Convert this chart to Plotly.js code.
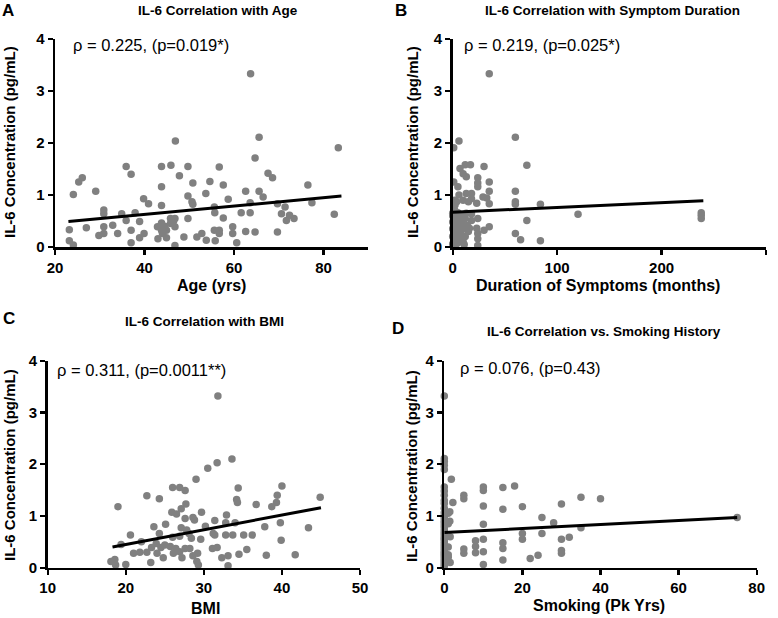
<!DOCTYPE html>
<html>
<head>
<meta charset="utf-8">
<script src="https://cdn.plot.ly/plotly-3.0.1.min.js"></script>
<style>html,body{margin:0;padding:0;background:#fff;}#chart{width:778px;height:618px;}</style>
</head>
<body>
<div id="chart"></div>
<script>
// ---- Panel A: Age ----
const ageX = [63.7,46.9,65.6,83.3,64.7,35.9,37.0,43.8,45.9,49.7,56.7,25.3,26.1,29.1,24.1,47.8,50.8,54.6,57.6,67.6,68.6,76.5,62.6,65.6,66.5,43.8,53.7,49.7,39.8,40.9,43.8,50.6,50.8,58.7,55.6,63.6,69.7,71.4,77.4,30.9,30.9,34.9,35.9,37.9,38.9,55.7,61.6,63.6,57.6,49.7,70.6,71.7,72.4,73.4,82.4,23.2,23.2,24.1,27.0,29.8,30.9,30.9,32.9,34.0,37.0,37.0,38.9,39.9,42.9,43.0,43.8,43.8,44.0,44.9,44.9,45.8,45.8,46.8,46.8,46.8,48.8,51.7,52.8,53.8,55.8,55.6,56.7,56.7,59.7,59.7,60.6,62.6,64.7,69.7,46.5,44.5];
const ageY = [3.33,2.04,2.11,1.91,1.71,1.55,1.40,1.55,1.57,1.55,1.54,1.25,1.33,1.07,1.01,1.37,1.23,1.26,1.19,1.42,1.33,1.19,1.07,1.07,0.96,1.16,1.03,0.98,0.93,0.83,0.80,0.87,0.82,0.92,0.77,0.85,0.83,0.77,0.85,0.71,0.64,0.64,0.51,0.66,0.49,0.66,0.66,0.66,0.56,0.55,0.64,0.51,0.61,0.55,0.63,0.33,0.12,0.04,0.37,0.22,0.39,0.26,0.42,0.26,0.32,0.08,0.18,0.26,0.39,0.16,0.32,0.46,0.26,0.32,0.18,0.55,0.45,0.55,0.39,0.03,0.19,0.19,0.26,0.13,0.12,0.32,0.32,0.26,0.39,0.26,0.08,0.30,0.29,0.29,0.50,0.40];
const ageFitX = [23, 84];
const ageFitY = [0.49, 0.98];

// ---- Panel B: Duration of symptoms ----
const durX = [35,60,6,1,71,30,12,17,7,10,13,24,24,35,1,5,24,13,18,35,60,29,2,10,18,23,35,60,60,84,120,238,238,238,71,60,65,84,35,30,24,24,18,18,24,24,0,2,0,1,0,2,0,1,0,2,0,3,4,3,4,5,6,6,7,6,8,9,8,10,10,12,12,11,14,15,5,2,3,9,13,1,7,6,16,32.6,3.8,2.2,15,23];
const durY = [3.33,2.11,2.04,1.91,1.57,1.55,1.58,1.58,1.51,1.41,1.35,1.33,1.23,1.25,1.25,1.16,1.16,1.03,1.03,1.07,1.07,0.96,0.90,0.90,0.93,0.84,0.83,0.87,0.82,0.82,0.63,0.66,0.61,0.55,0.51,0.26,0.14,0.12,0.39,0.32,0.26,0.03,0.64,0.51,0.55,0.16,0.65,0.62,0.48,0.55,0.35,0.42,0.20,0.28,0.06,0.12,0.60,0.60,0.50,0.33,0.22,0.08,0.58,0.40,0.30,0.15,0.62,0.45,0.25,0.35,0.10,0.55,0.20,0.05,0.42,0.30,0.66,0.70,0.05,0.15,0.65,0.38,0.48,1.00,0.36,0.94,0.87,0.81,0.87,0.36];
const durFitX = [0, 240];
const durFitY = [0.67, 0.89];

// ---- Panel C: BMI ----
const bmiX = [31.8,33.6,31.7,30.5,29.0,22.7,24.3,26.0,26.9,27.6,34.4,34.2,34.3,36.7,40.0,39.4,39.3,38.7,44.9,19.0,27.7,25.9,26.5,27.1,27.6,28.6,28.8,29.7,32.9,31.4,32.8,34.0,37.8,39.8,43.4,23.6,25.1,27.1,27.8,20.6,24.3,26.0,26.9,28.1,28.4,29.6,31.2,31.4,32.8,33.7,35.1,36.2,39.9,19.4,21.0,21.8,22.7,23.3,23.9,24.5,24.0,24.8,25.7,26.1,26.4,26.9,27.2,27.6,28.2,28.6,29.2,29.1,29.3,31.1,31.7,32.3,33.1,33.1,35.5,34.5,38.0,41.7,18.1,18.6,18.7,20.0,23.2,25.0,30.2,22.0];
const bmiY = [3.32,2.10,2.03,1.92,1.71,1.39,1.33,1.55,1.55,1.49,1.54,1.32,1.26,1.22,1.58,1.40,1.26,1.18,1.36,1.18,1.23,1.07,1.04,1.14,0.95,0.97,0.92,1.07,1.02,0.91,0.87,0.87,0.79,0.87,0.77,0.79,0.84,0.77,0.73,0.63,0.66,0.59,0.61,0.66,0.57,0.55,0.66,0.63,0.63,0.63,0.63,0.63,0.53,0.45,0.28,0.30,0.30,0.39,0.47,0.39,0.28,0.19,0.41,0.28,0.37,0.31,0.19,0.37,0.37,0.23,0.28,0.12,0.05,0.37,0.39,0.19,0.23,0.04,0.35,0.26,0.24,0.25,0.12,0.16,0.05,0.06,0.10,0.44,0.80,0.50];
const bmiFitX = [18.3, 45];
const bmiFitY = [0.40, 1.16];

// ---- Panel D: Smoking ----
const smkX = [0,0,0,0,0,0,0,0,0,0,0,0,0,0,0,0,0,0,0,0,0,0,0,0,0,0,0,0,0,0,0,0,0,0,0,0,1,1,1.5,1,1,1.5,1.8,2.2,1.4,1.4,1,5,5,10,10,10,15,15,18,20,30,35,40,75,25,28,10,25,20,20,30,32,35,8,8,8,5,5,10,10,10,15,15,15,22,24,30,30];
const smkY = [3.32,2.11,2.05,1.98,1.90,1.56,1.48,1.40,1.30,1.24,1.15,1.06,1.00,0.95,0.90,0.85,0.80,0.75,0.70,0.66,0.62,0.58,0.55,0.50,0.46,0.42,0.38,0.34,0.30,0.26,0.22,0.18,0.14,0.10,0.06,0.03,1.05,0.85,0.60,0.40,0.20,0.10,1.71,1.26,1.08,0.90,0.25,1.40,1.33,1.56,1.49,1.19,1.55,1.13,1.58,1.18,1.23,1.36,1.33,0.97,0.97,0.87,0.84,0.66,0.66,0.55,0.55,0.59,0.77,0.52,0.41,0.29,0.36,0.28,0.55,0.31,0.06,0.48,0.37,0.15,0.18,0.24,0.33,0.28];
const smkFitX = [0, 75];
const smkFitY = [0.68, 0.97];

const yTicks = [0, 1, 2, 3, 4];
const xTicksA = [20, 40, 60, 80];
const xTicksB = [0, 100, 200, 300];
const xTicksC = [10, 20, 30, 40, 50];
const xTicksD = [0, 20, 40, 60, 80];

const panelTitles = ["IL-6 Correlation with Age", "IL-6 Correlation with Symptom Duration", "IL-6 Correlation with BMI", "IL-6 Correlation vs. Smoking History"];
const panelLetters = ["A", "B", "C", "D"];
const xTitles = ["Age (yrs)", "Duration of Symptoms (months)", "BMI", "Smoking (Pk Yrs)"];
const yTitle = "IL-6 Concentration (pg/mL)";
const statTexts = ["ρ = 0.225, (p=0.019*)", "ρ = 0.219, (p=0.025*)", "ρ = 0.311, (p=0.0011**)", "ρ = 0.076, (p=0.43)"];

const W = 778, H = 618;
const FONT = "Arial, 'Liberation Sans', Helvetica, sans-serif";
const grey = "#808080";

const sets = [
  [ageX, ageY, ageFitX, ageFitY],
  [durX, durY, durFitX, durFitY],
  [bmiX, bmiY, bmiFitX, bmiFitY],
  [smkX, smkY, smkFitX, smkFitY]
];
const traces = [];
sets.forEach((s, i) => {
  const xa = i === 0 ? "x" : "x" + (i + 1);
  const ya = i === 0 ? "y" : "y" + (i + 1);
  traces.push({type: "scatter", mode: "markers", x: s[0], y: s[1], xaxis: xa, yaxis: ya,
    marker: {color: grey, size: 7.5, line: {width: 0}}, cliponaxis: false, showlegend: false, hoverinfo: "x+y"});
  traces.push({type: "scatter", mode: "lines", x: s[2], y: s[3], xaxis: xa, yaxis: ya,
    line: {color: "#000", width: 3}, cliponaxis: false, showlegend: false, hoverinfo: "skip"});
});

const px = (a) => a / W;
const py = (b) => 1 - b / H;
const geo = [
  {x0: 55, x1: 368.3, yb: 247, yt: 39, range: [20, 90], ticks: xTicksA},
  {x0: 452.7, x1: 766, yb: 247, yt: 39, range: [0, 300], ticks: xTicksB},
  {x0: 47.7, x1: 360, yb: 567.7, yt: 360.7, range: [10, 50], ticks: xTicksC},
  {x0: 444.3, x1: 756.7, yb: 567.7, yt: 360.7, range: [0, 80], ticks: xTicksD}
];

const tickfont = {family: FONT, size: 15, color: "#000", weight: "bold"};
const layout = {
  width: W, height: H, margin: {l: 0, r: 0, t: 0, b: 0},
  paper_bgcolor: "#fff", plot_bgcolor: "rgba(0,0,0,0)",
  showlegend: false, annotations: [], font: {family: FONT}
};
geo.forEach((g, i) => {
  const sx = i === 0 ? "" : String(i + 1);
  layout["xaxis" + sx] = {
    domain: [px(g.x0), px(g.x1)], range: g.range, anchor: "y" + sx,
    tickmode: "array", tickvals: g.ticks, ticktext: g.ticks.map(String),
    showline: true, linecolor: "#000", linewidth: 2.5, showgrid: false, zeroline: false,
    ticks: "outside", ticklen: 5, tickwidth: 2.2, tickcolor: "#000", tickfont: tickfont, fixedrange: true
  };
  layout["yaxis" + sx] = {
    domain: [py(g.yb), py(g.yt)], range: [0, 4], anchor: "x" + sx,
    tickmode: "array", tickvals: yTicks, ticktext: yTicks.map(String),
    showline: true, linecolor: "#000", linewidth: 2.5, showgrid: false, zeroline: false,
    ticks: "outside", ticklen: 5, tickwidth: 2.2, tickcolor: "#000", tickfont: tickfont, fixedrange: true
  };
});

const titlePos = [[218, 10], [612, 10], [204, 321], [604, 332]];
const letterPos = [[8, 10], [401, 10], [9, 318], [398, 328]];
const xTitlePos = [[212, 285], [598, 285], [205, 608], [599, 605]];
const yTitlePos = [[9, 142], [412, 142], [9, 465], [411, 466]];
const statPos = [[71, 45], [462, 45], [55, 370], [458, 368]];

for (let i = 0; i < 4; i++) {
  layout.annotations.push({text: "<b>" + panelTitles[i] + "</b>", xref: "paper", yref: "paper",
    x: px(titlePos[i][0]), y: py(titlePos[i][1]), xanchor: "center", yanchor: "middle", showarrow: false,
    font: {family: FONT, size: 13.5, color: "#000"}});
  layout.annotations.push({text: "<b>" + panelLetters[i] + "</b>", xref: "paper", yref: "paper",
    x: px(letterPos[i][0]), y: py(letterPos[i][1]), xanchor: "center", yanchor: "middle", showarrow: false,
    font: {family: FONT, size: 17, color: "#000"}});
  layout.annotations.push({text: "<b>" + xTitles[i] + "</b>", xref: "paper", yref: "paper",
    x: px(xTitlePos[i][0]), y: py(xTitlePos[i][1]), xanchor: "center", yanchor: "middle", showarrow: false,
    font: {family: FONT, size: 16, color: "#000"}});
  layout.annotations.push({text: "<b>" + yTitle + "</b>", xref: "paper", yref: "paper", textangle: -90,
    x: px(yTitlePos[i][0]), y: py(yTitlePos[i][1]), xanchor: "center", yanchor: "middle", showarrow: false,
    font: {family: FONT, size: 15, color: "#000"}});
  layout.annotations.push({text: statTexts[i], xref: "paper", yref: "paper",
    x: px(statPos[i][0]), y: py(statPos[i][1]), xanchor: "left", yanchor: "middle", showarrow: false,
    font: {family: FONT, size: 16.5, color: "#000"}});
}

Plotly.newPlot("chart", traces, layout, {staticPlot: true, displayModeBar: false});
</script>
</body>
</html>
